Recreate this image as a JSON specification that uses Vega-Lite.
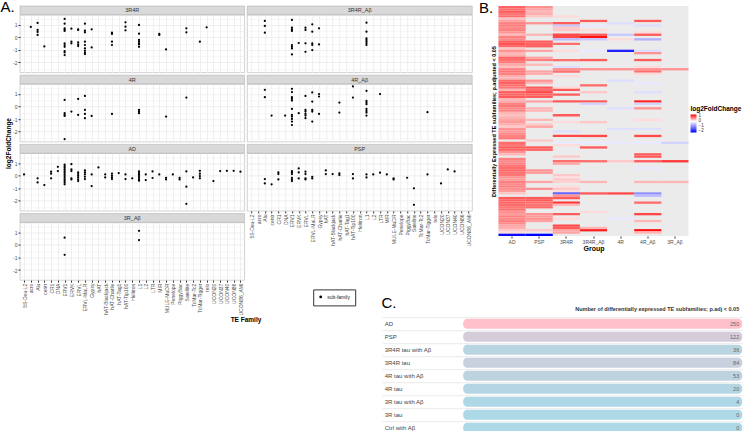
{
"$schema": "https://vega.github.io/schema/vega-lite/v6.json",
"padding": 0,
"autosize": {"type": "pad"},
"background": "white",
"config": {"font": "Liberation Sans", "view": {"stroke": "#b3b3b3", "strokeWidth": 0.6}},
"datasets": {
"pts": [
{"panel":"3R4R","family":"acro","lfc":0.83},
{"panel":"3R4R","family":"Alu","lfc":1.15},{"panel":"3R4R","family":"Alu","lfc":0.59},{"panel":"3R4R","family":"Alu","lfc":0.43},{"panel":"3R4R","family":"Alu","lfc":0.19},
{"panel":"3R4R","family":"centr","lfc":-0.72},
{"panel":"3R4R","family":"ERV1","lfc":1.47},{"panel":"3R4R","family":"ERV1","lfc":1.09},{"panel":"3R4R","family":"ERV1","lfc":0.72},{"panel":"3R4R","family":"ERV1","lfc":0.61},{"panel":"3R4R","family":"ERV1","lfc":0.51},{"panel":"3R4R","family":"ERV1","lfc":-0.48},{"panel":"3R4R","family":"ERV1","lfc":-0.61},{"panel":"3R4R","family":"ERV1","lfc":-0.75},{"panel":"3R4R","family":"ERV1","lfc":-1.09},{"panel":"3R4R","family":"ERV1","lfc":-1.2},{"panel":"3R4R","family":"ERV1","lfc":-1.41},
{"panel":"3R4R","family":"ERVK","lfc":0.69},{"panel":"3R4R","family":"ERVK","lfc":-0.35},{"panel":"3R4R","family":"ERVK","lfc":-0.48},
{"panel":"3R4R","family":"ERVL","lfc":0.64},{"panel":"3R4R","family":"ERVL","lfc":0.59},{"panel":"3R4R","family":"ERVL","lfc":-0.4},{"panel":"3R4R","family":"ERVL","lfc":-0.56},{"panel":"3R4R","family":"ERVL","lfc":-0.69},
{"panel":"3R4R","family":"ERVL-MaLR","lfc":1.09},{"panel":"3R4R","family":"ERVL-MaLR","lfc":0.53},{"panel":"3R4R","family":"ERVL-MaLR","lfc":0.4},{"panel":"3R4R","family":"ERVL-MaLR","lfc":-0.35},{"panel":"3R4R","family":"ERVL-MaLR","lfc":-0.61},{"panel":"3R4R","family":"ERVL-MaLR","lfc":-0.88},{"panel":"3R4R","family":"ERVL-MaLR","lfc":-1.07},{"panel":"3R4R","family":"ERVL-MaLR","lfc":-1.23},{"panel":"3R4R","family":"ERVL-MaLR","lfc":-1.33},
{"panel":"3R4R","family":"Gypsy","lfc":0.64},{"panel":"3R4R","family":"Gypsy","lfc":-0.8},
{"panel":"3R4R","family":"hAT-Charlie","lfc":0.37},{"panel":"3R4R","family":"hAT-Charlie","lfc":0.27},{"panel":"3R4R","family":"hAT-Charlie","lfc":-0.35},{"panel":"3R4R","family":"hAT-Charlie","lfc":-0.61},
{"panel":"3R4R","family":"hAT-Tip100","lfc":1.2},{"panel":"3R4R","family":"hAT-Tip100","lfc":0.85},{"panel":"3R4R","family":"hAT-Tip100","lfc":0.56},
{"panel":"3R4R","family":"L1","lfc":0.99},{"panel":"3R4R","family":"L1","lfc":0.29},{"panel":"3R4R","family":"L1","lfc":-0.21},{"panel":"3R4R","family":"L1","lfc":-0.35},{"panel":"3R4R","family":"L1","lfc":-0.48},{"panel":"3R4R","family":"L1","lfc":-0.56},{"panel":"3R4R","family":"L1","lfc":-0.75},
{"panel":"3R4R","family":"MIR","lfc":0.27},{"panel":"3R4R","family":"MIR","lfc":0.19},
{"panel":"3R4R","family":"MULE-MuDR","lfc":-0.96},
{"panel":"3R4R","family":"Satellite","lfc":0.72},{"panel":"3R4R","family":"Satellite","lfc":0.4},
{"panel":"3R4R","family":"TcMar-Tigger","lfc":-0.35},
{"panel":"3R4R","family":"telo","lfc":0.8},
{"panel":"4R","family":"ERV1","lfc":0.53},{"panel":"4R","family":"ERV1","lfc":-0.53},{"panel":"4R","family":"ERV1","lfc":-0.67},{"panel":"4R","family":"ERV1","lfc":-0.75},{"panel":"4R","family":"ERV1","lfc":-2.59},
{"panel":"4R","family":"ERVK","lfc":-0.4},
{"panel":"4R","family":"ERVL","lfc":0.61},{"panel":"4R","family":"ERVL","lfc":-0.67},
{"panel":"4R","family":"ERVL-MaLR","lfc":0.85},{"panel":"4R","family":"ERVL-MaLR","lfc":-0.27},{"panel":"4R","family":"ERVL-MaLR","lfc":-0.59},{"panel":"4R","family":"ERVL-MaLR","lfc":-0.93},
{"panel":"4R","family":"Gypsy","lfc":-0.75},
{"panel":"4R","family":"hAT-Charlie","lfc":-0.59},
{"panel":"4R","family":"L1","lfc":-0.27},{"panel":"4R","family":"L1","lfc":-0.4},{"panel":"4R","family":"L1","lfc":-0.53},
{"panel":"4R","family":"MULE-MuDR","lfc":-0.8},
{"panel":"4R","family":"Satellite","lfc":0.72},
{"panel":"3R4R_Aβ","family":"Alu","lfc":1.31},{"panel":"3R4R_Aβ","family":"Alu","lfc":0.91},{"panel":"3R4R_Aβ","family":"Alu","lfc":0.37},
{"panel":"3R4R_Aβ","family":"ERV1","lfc":1.39},{"panel":"3R4R_Aβ","family":"ERV1","lfc":0.77},{"panel":"3R4R_Aβ","family":"ERV1","lfc":0.64},{"panel":"3R4R_Aβ","family":"ERV1","lfc":0.51},{"panel":"3R4R_Aβ","family":"ERV1","lfc":-0.61},{"panel":"3R4R_Aβ","family":"ERV1","lfc":-0.75},{"panel":"3R4R_Aβ","family":"ERV1","lfc":-0.88},{"panel":"3R4R_Aβ","family":"ERV1","lfc":-1.36},
{"panel":"3R4R_Aβ","family":"ERVK","lfc":-0.45},
{"panel":"3R4R_Aβ","family":"ERVL","lfc":0.77},{"panel":"3R4R_Aβ","family":"ERVL","lfc":0.59},{"panel":"3R4R_Aβ","family":"ERVL","lfc":-0.48},{"panel":"3R4R_Aβ","family":"ERVL","lfc":-1.15},
{"panel":"3R4R_Aβ","family":"ERVL-MaLR","lfc":1.04},{"panel":"3R4R_Aβ","family":"ERVL-MaLR","lfc":0.45},{"panel":"3R4R_Aβ","family":"ERVL-MaLR","lfc":-0.48},{"panel":"3R4R_Aβ","family":"ERVL-MaLR","lfc":-0.61},{"panel":"3R4R_Aβ","family":"ERVL-MaLR","lfc":-1.01},
{"panel":"3R4R_Aβ","family":"Gypsy","lfc":0.72},{"panel":"3R4R_Aβ","family":"Gypsy","lfc":-0.56},
{"panel":"3R4R_Aβ","family":"L1","lfc":1.17},{"panel":"3R4R_Aβ","family":"L1","lfc":0.45},{"panel":"3R4R_Aβ","family":"L1","lfc":-0.08},{"panel":"3R4R_Aβ","family":"L1","lfc":-0.21},{"panel":"3R4R_Aβ","family":"L1","lfc":-0.35},{"panel":"3R4R_Aβ","family":"L1","lfc":-0.48},{"panel":"3R4R_Aβ","family":"L1","lfc":-0.61},
{"panel":"4R_Aβ","family":"Alu","lfc":1.33},{"panel":"4R_Aβ","family":"Alu","lfc":0.75},
{"panel":"4R_Aβ","family":"centr","lfc":-0.72},
{"panel":"4R_Aβ","family":"DNA","lfc":-0.72},
{"panel":"4R_Aβ","family":"ERV1","lfc":1.41},{"panel":"4R_Aβ","family":"ERV1","lfc":1.15},{"panel":"4R_Aβ","family":"ERV1","lfc":0.75},{"panel":"4R_Aβ","family":"ERV1","lfc":0.61},{"panel":"4R_Aβ","family":"ERV1","lfc":0.48},{"panel":"4R_Aβ","family":"ERV1","lfc":-0.19},{"panel":"4R_Aβ","family":"ERV1","lfc":-0.67},{"panel":"4R_Aβ","family":"ERV1","lfc":-0.8},{"panel":"4R_Aβ","family":"ERV1","lfc":-0.99},{"panel":"4R_Aβ","family":"ERV1","lfc":-1.2},{"panel":"4R_Aβ","family":"ERV1","lfc":-1.47},
{"panel":"4R_Aβ","family":"ERVK","lfc":-0.53},
{"panel":"4R_Aβ","family":"ERVL","lfc":0.85},{"panel":"4R_Aβ","family":"ERVL","lfc":-0.27},{"panel":"4R_Aβ","family":"ERVL","lfc":-0.4},{"panel":"4R_Aβ","family":"ERVL","lfc":-0.59},{"panel":"4R_Aβ","family":"ERVL","lfc":-0.72},{"panel":"4R_Aβ","family":"ERVL","lfc":-0.93},
{"panel":"4R_Aβ","family":"ERVL-MaLR","lfc":1.12},{"panel":"4R_Aβ","family":"ERVL-MaLR","lfc":0.4},{"panel":"4R_Aβ","family":"ERVL-MaLR","lfc":-0.27},{"panel":"4R_Aβ","family":"ERVL-MaLR","lfc":-0.4},{"panel":"4R_Aβ","family":"ERVL-MaLR","lfc":-1.2},
{"panel":"4R_Aβ","family":"Gypsy","lfc":0.99},{"panel":"4R_Aβ","family":"Gypsy","lfc":0.8},{"panel":"4R_Aβ","family":"Gypsy","lfc":-0.59},
{"panel":"4R_Aβ","family":"hAT-Charlie","lfc":0.32},{"panel":"4R_Aβ","family":"hAT-Charlie","lfc":-0.48},
{"panel":"4R_Aβ","family":"hAT-Tip100","lfc":1.6},{"panel":"4R_Aβ","family":"hAT-Tip100","lfc":0.72},
{"panel":"4R_Aβ","family":"L1","lfc":1.25},{"panel":"4R_Aβ","family":"L1","lfc":0.45},{"panel":"4R_Aβ","family":"L1","lfc":0.32},{"panel":"4R_Aβ","family":"L1","lfc":0.19},{"panel":"4R_Aβ","family":"L1","lfc":-0.19},{"panel":"4R_Aβ","family":"L1","lfc":-0.35},{"panel":"4R_Aβ","family":"L1","lfc":-0.48},{"panel":"4R_Aβ","family":"L1","lfc":-0.72},
{"panel":"4R_Aβ","family":"LTR","lfc":0.99},
{"panel":"4R_Aβ","family":"TcMar-Tigger","lfc":-0.45},
{"panel":"AD","family":"5S-Deu-L2","lfc":0.1},
{"panel":"AD","family":"Alu","lfc":-0.2},{"panel":"AD","family":"Alu","lfc":-0.53},
{"panel":"AD","family":"centr","lfc":-0.74},
{"panel":"AD","family":"CR1","lfc":0.32},{"panel":"AD","family":"CR1","lfc":0.16},{"panel":"AD","family":"CR1","lfc":-0.2},
{"panel":"AD","family":"DNA","lfc":0.71},{"panel":"AD","family":"DNA","lfc":0.37},
{"panel":"AD","family":"ERV1","lfc":0.89},{"panel":"AD","family":"ERV1","lfc":0.76},{"panel":"AD","family":"ERV1","lfc":0.63},{"panel":"AD","family":"ERV1","lfc":0.5},{"panel":"AD","family":"ERV1","lfc":0.37},{"panel":"AD","family":"ERV1","lfc":0.24},{"panel":"AD","family":"ERV1","lfc":0.1},{"panel":"AD","family":"ERV1","lfc":-0.03},{"panel":"AD","family":"ERV1","lfc":-0.16},{"panel":"AD","family":"ERV1","lfc":-0.29},{"panel":"AD","family":"ERV1","lfc":-0.42},{"panel":"AD","family":"ERV1","lfc":-0.55},{"panel":"AD","family":"ERV1","lfc":-0.68},
{"panel":"AD","family":"ERVK","lfc":0.92},{"panel":"AD","family":"ERVK","lfc":0.5},{"panel":"AD","family":"ERVK","lfc":0.37},{"panel":"AD","family":"ERVK","lfc":-0.2},{"panel":"AD","family":"ERVK","lfc":-0.29},
{"panel":"AD","family":"ERVL","lfc":0.26},{"panel":"AD","family":"ERVL","lfc":0.13},{"panel":"AD","family":"ERVL","lfc":0},{"panel":"AD","family":"ERVL","lfc":-0.13},{"panel":"AD","family":"ERVL","lfc":-0.29},{"panel":"AD","family":"ERVL","lfc":-0.42},
{"panel":"AD","family":"ERVL-MaLR","lfc":0.42},{"panel":"AD","family":"ERVL-MaLR","lfc":0.26},{"panel":"AD","family":"ERVL-MaLR","lfc":0.1},{"panel":"AD","family":"ERVL-MaLR","lfc":-0.08},{"panel":"AD","family":"ERVL-MaLR","lfc":-0.26},
{"panel":"AD","family":"Gypsy","lfc":0.1},{"panel":"AD","family":"Gypsy","lfc":-0.82},
{"panel":"AD","family":"hAT","lfc":0.66},
{"panel":"AD","family":"hAT-Blackjack","lfc":0.1},{"panel":"AD","family":"hAT-Blackjack","lfc":-0.13},
{"panel":"AD","family":"hAT-Charlie","lfc":0.16},{"panel":"AD","family":"hAT-Charlie","lfc":0},{"panel":"AD","family":"hAT-Charlie","lfc":-0.13},{"panel":"AD","family":"hAT-Charlie","lfc":-0.26},
{"panel":"AD","family":"hAT-Tag1","lfc":0.21},
{"panel":"AD","family":"hAT-Tip100","lfc":0.1},{"panel":"AD","family":"hAT-Tip100","lfc":-0.26},
{"panel":"AD","family":"Helitron","lfc":-0.2},
{"panel":"AD","family":"L1","lfc":0.34},{"panel":"AD","family":"L1","lfc":0.21},{"panel":"AD","family":"L1","lfc":0.1},{"panel":"AD","family":"L1","lfc":-0.03},{"panel":"AD","family":"L1","lfc":-0.16},{"panel":"AD","family":"L1","lfc":-0.29},{"panel":"AD","family":"L1","lfc":-0.39},
{"panel":"AD","family":"L2","lfc":0.1},{"panel":"AD","family":"L2","lfc":-0.34},
{"panel":"AD","family":"LTR","lfc":0.34},{"panel":"AD","family":"LTR","lfc":-0.18},
{"panel":"AD","family":"MIR","lfc":0.1},
{"panel":"AD","family":"MULE-MuDR","lfc":-0.16},{"panel":"AD","family":"MULE-MuDR","lfc":-0.29},
{"panel":"AD","family":"Penelope","lfc":0.1},
{"panel":"AD","family":"PiggyBac","lfc":-0.16},{"panel":"AD","family":"PiggyBac","lfc":-0.29},
{"panel":"AD","family":"Satellite","lfc":0.34},{"panel":"AD","family":"Satellite","lfc":-0.87},{"panel":"AD","family":"Satellite","lfc":-2.24},
{"panel":"AD","family":"TcMar-Tc2","lfc":-0.13},
{"panel":"AD","family":"TcMar-Tigger","lfc":0.39},{"panel":"AD","family":"TcMar-Tigger","lfc":0.16},{"panel":"AD","family":"TcMar-Tigger","lfc":-0.03},{"panel":"AD","family":"TcMar-Tigger","lfc":-0.2},
{"panel":"AD","family":"UCON20","lfc":-0.42},
{"panel":"AD","family":"UCON37","lfc":0.37},
{"panel":"AD","family":"UCON40","lfc":0.39},
{"panel":"AD","family":"UCON86","lfc":0.39},
{"panel":"AD","family":"UCON86_AMI","lfc":0.32},
{"panel":"PSP","family":"Alu","lfc":-0.26},{"panel":"PSP","family":"Alu","lfc":-0.61},
{"panel":"PSP","family":"centr","lfc":-0.68},
{"panel":"PSP","family":"CR1","lfc":0.26},{"panel":"PSP","family":"CR1","lfc":0.13},{"panel":"PSP","family":"CR1","lfc":-0.29},
{"panel":"PSP","family":"ERV1","lfc":0.37},{"panel":"PSP","family":"ERV1","lfc":0.26},{"panel":"PSP","family":"ERV1","lfc":0.13},{"panel":"PSP","family":"ERV1","lfc":-0.16},{"panel":"PSP","family":"ERV1","lfc":-0.29},{"panel":"PSP","family":"ERV1","lfc":-0.42},
{"panel":"PSP","family":"ERVK","lfc":0.58},{"panel":"PSP","family":"ERVK","lfc":0.26},{"panel":"PSP","family":"ERVK","lfc":-0.21},
{"panel":"PSP","family":"ERVL","lfc":0.32},{"panel":"PSP","family":"ERVL","lfc":0.13},{"panel":"PSP","family":"ERVL","lfc":-0.21},{"panel":"PSP","family":"ERVL","lfc":-0.29},
{"panel":"PSP","family":"ERVL-MaLR","lfc":-0.08},{"panel":"PSP","family":"ERVL-MaLR","lfc":-0.21},
{"panel":"PSP","family":"hAT","lfc":0.42},{"panel":"PSP","family":"hAT","lfc":0.13},
{"panel":"PSP","family":"hAT-Blackjack","lfc":0.13},
{"panel":"PSP","family":"hAT-Charlie","lfc":0.18},{"panel":"PSP","family":"hAT-Charlie","lfc":0.05},
{"panel":"PSP","family":"hAT-Tip100","lfc":0.13},{"panel":"PSP","family":"hAT-Tip100","lfc":-0.21},
{"panel":"PSP","family":"L1","lfc":0.1},{"panel":"PSP","family":"L1","lfc":-0.13},
{"panel":"PSP","family":"L2","lfc":0.1},
{"panel":"PSP","family":"LTR","lfc":0.24},
{"panel":"PSP","family":"MIR","lfc":0.1},
{"panel":"PSP","family":"MULE-MuDR","lfc":-0.21},{"panel":"PSP","family":"MULE-MuDR","lfc":-0.29},
{"panel":"PSP","family":"PiggyBac","lfc":-0.16},
{"panel":"PSP","family":"Satellite","lfc":-1.0},{"panel":"PSP","family":"Satellite","lfc":-2.32},
{"panel":"PSP","family":"TcMar-Tigger","lfc":0.1},
{"panel":"PSP","family":"UCON20","lfc":-0.61},
{"panel":"PSP","family":"UCON37","lfc":0.5},
{"panel":"PSP","family":"UCON40","lfc":0.34},
{"panel":"3R_Aβ","family":"ERV1","lfc":0.58},{"panel":"3R_Aβ","family":"ERV1","lfc":-0.79},
{"panel":"3R_Aβ","family":"L1","lfc":1.13},{"panel":"3R_Aβ","family":"L1","lfc":0.39}
],
"heat": [
{"row":1,"group":"AD","lfc":0.85},{"row":2,"group":"AD","lfc":0.8},{"row":3,"group":"AD","lfc":0.9},{"row":4,"group":"AD","lfc":0.75},{"row":5,"group":"AD","lfc":0.8},{"row":6,"group":"AD","lfc":0.35},{"row":7,"group":"AD","lfc":0.5},{"row":8,"group":"AD","lfc":0.7},{"row":9,"group":"AD","lfc":0.75},{"row":10,"group":"AD","lfc":0.65},
{"row":11,"group":"AD","lfc":0.7},{"row":12,"group":"AD","lfc":0.6},{"row":13,"group":"AD","lfc":0.4},{"row":14,"group":"AD","lfc":0.7},{"row":15,"group":"AD","lfc":0.65},{"row":16,"group":"AD","lfc":0.9},{"row":17,"group":"AD","lfc":0.95},{"row":18,"group":"AD","lfc":0.85},{"row":19,"group":"AD","lfc":0.3},{"row":20,"group":"AD","lfc":0.6},
{"row":21,"group":"AD","lfc":0.4},{"row":22,"group":"AD","lfc":0.45},{"row":23,"group":"AD","lfc":0.85},{"row":24,"group":"AD","lfc":0.8},{"row":25,"group":"AD","lfc":0.75},{"row":26,"group":"AD","lfc":0.5},{"row":27,"group":"AD","lfc":0.35},{"row":28,"group":"AD","lfc":0.7},{"row":29,"group":"AD","lfc":0.75},{"row":30,"group":"AD","lfc":0.7},
{"row":31,"group":"AD","lfc":0.45},{"row":32,"group":"AD","lfc":0.4},{"row":33,"group":"AD","lfc":0.8},{"row":34,"group":"AD","lfc":0.85},{"row":35,"group":"AD","lfc":0.8},{"row":36,"group":"AD","lfc":0.75},{"row":37,"group":"AD","lfc":0.4},{"row":38,"group":"AD","lfc":0.9},{"row":39,"group":"AD","lfc":0.85},{"row":40,"group":"AD","lfc":0.9},
{"row":41,"group":"AD","lfc":0.4},{"row":42,"group":"AD","lfc":0.45},{"row":43,"group":"AD","lfc":0.7},{"row":44,"group":"AD","lfc":0.75},{"row":45,"group":"AD","lfc":0.65},{"row":46,"group":"AD","lfc":0.7},{"row":47,"group":"AD","lfc":0.4},{"row":48,"group":"AD","lfc":0.35},{"row":49,"group":"AD","lfc":0.45},{"row":50,"group":"AD","lfc":0.5},
{"row":51,"group":"AD","lfc":0.55},{"row":52,"group":"AD","lfc":0.45},{"row":53,"group":"AD","lfc":0.3},{"row":54,"group":"AD","lfc":0.6},{"row":55,"group":"AD","lfc":0.55},{"row":56,"group":"AD","lfc":0.65},{"row":57,"group":"AD","lfc":0.7},{"row":58,"group":"AD","lfc":0.75},{"row":60,"group":"AD","lfc":0.8},
{"row":61,"group":"AD","lfc":0.75},{"row":62,"group":"AD","lfc":0.9},{"row":63,"group":"AD","lfc":0.85},{"row":64,"group":"AD","lfc":0.6},{"row":65,"group":"AD","lfc":0.4},{"row":67,"group":"AD","lfc":0.7},{"row":68,"group":"AD","lfc":0.65},{"row":69,"group":"AD","lfc":0.7},{"row":70,"group":"AD","lfc":0.75},
{"row":71,"group":"AD","lfc":0.8},{"row":72,"group":"AD","lfc":0.85},{"row":73,"group":"AD","lfc":0.8},{"row":74,"group":"AD","lfc":0.75},{"row":75,"group":"AD","lfc":0.6},{"row":76,"group":"AD","lfc":0.55},{"row":77,"group":"AD","lfc":0.7},{"row":78,"group":"AD","lfc":0.65},{"row":79,"group":"AD","lfc":0.7},{"row":80,"group":"AD","lfc":0.6},
{"row":81,"group":"AD","lfc":0.55},{"row":82,"group":"AD","lfc":0.3},{"row":84,"group":"AD","lfc":0.9},{"row":85,"group":"AD","lfc":0.85},{"row":86,"group":"AD","lfc":0.85},{"row":87,"group":"AD","lfc":0.8},{"row":88,"group":"AD","lfc":0.75},{"row":89,"group":"AD","lfc":0.8},{"row":90,"group":"AD","lfc":0.6},
{"row":91,"group":"AD","lfc":0.55},{"row":92,"group":"AD","lfc":0.7},{"row":93,"group":"AD","lfc":0.65},{"row":94,"group":"AD","lfc":0.7},{"row":95,"group":"AD","lfc":0.65},{"row":96,"group":"AD","lfc":0.5},{"row":97,"group":"AD","lfc":0.45},{"row":98,"group":"AD","lfc":0.3},{"row":99,"group":"AD","lfc":0.2},{"row":100,"group":"AD","lfc":-2.2},
{"row":1,"group":"PSP","lfc":0.6},{"row":2,"group":"PSP","lfc":0.5},{"row":3,"group":"PSP","lfc":0.4},{"row":4,"group":"PSP","lfc":0.45},{"row":5,"group":"PSP","lfc":0.3},{"row":8,"group":"PSP","lfc":0.6},{"row":13,"group":"PSP","lfc":0.4},{"row":16,"group":"PSP","lfc":0.9},{"row":17,"group":"PSP","lfc":0.85},{"row":18,"group":"PSP","lfc":0.9},
{"row":20,"group":"PSP","lfc":0.5},{"row":23,"group":"PSP","lfc":0.5},{"row":24,"group":"PSP","lfc":0.7},{"row":26,"group":"PSP","lfc":0.4},{"row":29,"group":"PSP","lfc":0.5},{"row":30,"group":"PSP","lfc":0.45},{"row":33,"group":"PSP","lfc":0.6},{"row":34,"group":"PSP","lfc":0.4},{"row":36,"group":"PSP","lfc":0.9},{"row":37,"group":"PSP","lfc":0.8},
{"row":38,"group":"PSP","lfc":1.0},{"row":39,"group":"PSP","lfc":0.85},{"row":40,"group":"PSP","lfc":0.9},{"row":42,"group":"PSP","lfc":0.5},{"row":45,"group":"PSP","lfc":0.4},{"row":46,"group":"PSP","lfc":0.4},{"row":50,"group":"PSP","lfc":0.4},{"row":52,"group":"PSP","lfc":0.3},{"row":53,"group":"PSP","lfc":0.5},{"row":59,"group":"PSP","lfc":0.3},
{"row":62,"group":"PSP","lfc":0.9},{"row":63,"group":"PSP","lfc":0.85},{"row":72,"group":"PSP","lfc":0.6},{"row":73,"group":"PSP","lfc":0.55},{"row":77,"group":"PSP","lfc":0.5},{"row":80,"group":"PSP","lfc":0.6},{"row":84,"group":"PSP","lfc":0.9},{"row":85,"group":"PSP","lfc":0.9},{"row":86,"group":"PSP","lfc":0.8},{"row":87,"group":"PSP","lfc":0.75},
{"row":88,"group":"PSP","lfc":0.8},{"row":91,"group":"PSP","lfc":0.6},{"row":92,"group":"PSP","lfc":0.55},{"row":93,"group":"PSP","lfc":0.6},{"row":94,"group":"PSP","lfc":0.5},{"row":98,"group":"PSP","lfc":0.3},{"row":100,"group":"PSP","lfc":-2.3},
{"row":5,"group":"3R4R","lfc":0.2},{"row":8,"group":"3R4R","lfc":0.9},{"row":9,"group":"3R4R","lfc":-0.5},{"row":10,"group":"3R4R","lfc":0.3},{"row":11,"group":"3R4R","lfc":0.3},{"row":13,"group":"3R4R","lfc":1.0},{"row":14,"group":"3R4R","lfc":1.0},{"row":15,"group":"3R4R","lfc":-0.6},{"row":17,"group":"3R4R","lfc":0.8},{"row":20,"group":"3R4R","lfc":0.2},
{"row":24,"group":"3R4R","lfc":0.8},{"row":27,"group":"3R4R","lfc":-0.3},{"row":28,"group":"3R4R","lfc":0.6},{"row":29,"group":"3R4R","lfc":0.8},{"row":31,"group":"3R4R","lfc":0.2},{"row":36,"group":"3R4R","lfc":0.2},{"row":37,"group":"3R4R","lfc":0.9},{"row":39,"group":"3R4R","lfc":0.9},{"row":42,"group":"3R4R","lfc":0.9},{"row":48,"group":"3R4R","lfc":0.9},
{"row":51,"group":"3R4R","lfc":0.2},{"row":55,"group":"3R4R","lfc":-0.3},{"row":57,"group":"3R4R","lfc":1.0},{"row":60,"group":"3R4R","lfc":-0.2},{"row":61,"group":"3R4R","lfc":0.2},{"row":66,"group":"3R4R","lfc":0.3},{"row":68,"group":"3R4R","lfc":0.8},{"row":69,"group":"3R4R","lfc":0.5},{"row":74,"group":"3R4R","lfc":0.3},{"row":75,"group":"3R4R","lfc":0.2},
{"row":76,"group":"3R4R","lfc":0.3},{"row":77,"group":"3R4R","lfc":0.25},{"row":79,"group":"3R4R","lfc":0.2},{"row":80,"group":"3R4R","lfc":0.3},{"row":81,"group":"3R4R","lfc":0.2},{"row":82,"group":"3R4R","lfc":-1.4},{"row":83,"group":"3R4R","lfc":0.6},{"row":84,"group":"3R4R","lfc":0.9},{"row":86,"group":"3R4R","lfc":1.1},{"row":87,"group":"3R4R","lfc":0.4},
{"row":91,"group":"3R4R","lfc":0.9},{"row":93,"group":"3R4R","lfc":0.2},{"row":96,"group":"3R4R","lfc":1.0},{"row":97,"group":"3R4R","lfc":0.9},{"row":98,"group":"3R4R","lfc":0.5},{"row":99,"group":"3R4R","lfc":0.5},
{"row":7,"group":"3R4R_Aβ","lfc":0.9},{"row":9,"group":"3R4R_Aβ","lfc":-0.2},{"row":11,"group":"3R4R_Aβ","lfc":0.2},{"row":13,"group":"3R4R_Aβ","lfc":0.9},{"row":14,"group":"3R4R_Aβ","lfc":1.3},{"row":15,"group":"3R4R_Aβ","lfc":-0.5},{"row":20,"group":"3R4R_Aβ","lfc":-0.2},{"row":24,"group":"3R4R_Aβ","lfc":0.9},{"row":28,"group":"3R4R_Aβ","lfc":0.6},{"row":35,"group":"3R4R_Aβ","lfc":0.8},
{"row":38,"group":"3R4R_Aβ","lfc":0.3},{"row":42,"group":"3R4R_Aβ","lfc":0.9},{"row":43,"group":"3R4R_Aβ","lfc":-0.4},{"row":51,"group":"3R4R_Aβ","lfc":0.3},{"row":57,"group":"3R4R_Aβ","lfc":1.0},{"row":60,"group":"3R4R_Aβ","lfc":-0.2},{"row":62,"group":"3R4R_Aβ","lfc":0.9},{"row":68,"group":"3R4R_Aβ","lfc":0.8},{"row":77,"group":"3R4R_Aβ","lfc":0.4},{"row":82,"group":"3R4R_Aβ","lfc":0.9},
{"row":90,"group":"3R4R_Aβ","lfc":0.2},{"row":97,"group":"3R4R_Aβ","lfc":0.4},{"row":98,"group":"3R4R_Aβ","lfc":1.2},
{"row":8,"group":"4R","lfc":-0.3},{"row":13,"group":"4R","lfc":-0.5},{"row":15,"group":"4R","lfc":0.2},{"row":20,"group":"4R","lfc":-2.0},{"row":28,"group":"4R","lfc":0.6},{"row":33,"group":"4R","lfc":-0.3},{"row":45,"group":"4R","lfc":-0.3},{"row":54,"group":"4R","lfc":-0.3},{"row":60,"group":"4R","lfc":-0.2},{"row":68,"group":"4R","lfc":0.3},{"row":82,"group":"4R","lfc":1.0},{"row":93,"group":"4R","lfc":-0.2},
{"row":7,"group":"4R_Aβ","lfc":0.9},{"row":9,"group":"4R_Aβ","lfc":-0.3},{"row":12,"group":"4R_Aβ","lfc":0.2},{"row":13,"group":"4R_Aβ","lfc":0.9},{"row":15,"group":"4R_Aβ","lfc":-0.7},{"row":20,"group":"4R_Aβ","lfc":-0.3},{"row":21,"group":"4R_Aβ","lfc":0.6},{"row":24,"group":"4R_Aβ","lfc":0.9},{"row":27,"group":"4R_Aβ","lfc":0.2},{"row":28,"group":"4R_Aβ","lfc":0.6},
{"row":29,"group":"4R_Aβ","lfc":0.8},{"row":30,"group":"4R_Aβ","lfc":0.2},{"row":34,"group":"4R_Aβ","lfc":-0.2},{"row":38,"group":"4R_Aβ","lfc":-0.3},{"row":42,"group":"4R_Aβ","lfc":1.2},{"row":43,"group":"4R_Aβ","lfc":-0.4},{"row":45,"group":"4R_Aβ","lfc":0.6},{"row":50,"group":"4R_Aβ","lfc":0.2},{"row":54,"group":"4R_Aβ","lfc":-0.3},{"row":57,"group":"4R_Aβ","lfc":1.0},
{"row":60,"group":"4R_Aβ","lfc":-0.2},{"row":65,"group":"4R_Aβ","lfc":0.9},{"row":66,"group":"4R_Aβ","lfc":0.9},{"row":68,"group":"4R_Aβ","lfc":0.9},{"row":71,"group":"4R_Aβ","lfc":-0.2},{"row":77,"group":"4R_Aβ","lfc":0.4},{"row":82,"group":"4R_Aβ","lfc":-1.0},{"row":83,"group":"4R_Aβ","lfc":-0.6},{"row":86,"group":"4R_Aβ","lfc":0.8},{"row":91,"group":"4R_Aβ","lfc":1.0},
{"row":94,"group":"4R_Aβ","lfc":0.4},{"row":98,"group":"4R_Aβ","lfc":1.3},{"row":99,"group":"4R_Aβ","lfc":0.4},
{"row":28,"group":"3R_Aβ","lfc":0.6},{"row":60,"group":"3R_Aβ","lfc":-0.4},{"row":68,"group":"3R_Aβ","lfc":1.1},{"row":77,"group":"3R_Aβ","lfc":0.4}
],
"counts": [
{"label":"AD","n":250},{"label":"PSP","n":122},{"label":"3R4R tau with Aβ","n":36},{"label":"3R4R tau","n":84},{"label":"4R tau with Aβ","n":53},{"label":"4R tau","n":20},{"label":"3R tau with Aβ","n":4},{"label":"3R tau","n":0},{"label":"Ctrl with Aβ","n":0}
]
},
"bounds": "flush",
"spacing": 227.2,
"resolve": {"scale": {"x": "independent", "y": "independent", "color": "independent", "shape": "independent"}},
"hconcat": [
{
"bounds": "flush", "spacing": 69.2,
"resolve": {"scale": {"x": "independent", "y": "independent"}},
"vconcat": [
{"bounds": "flush", "spacing": 0, "vconcat": [
 {"width": 224.5, "height": 8.7, "view": {"stroke": null},
  "title": {"text": "A.", "anchor": "start", "align": "left", "frame": "group", "dx": -19.5, "dy": 10.4, "offset": -11, "baseline": "alphabetic", "fontSize": 15, "fontWeight": "normal", "color": "black"},
  "data": {"values": [{"panel": "3R4R"}]},
  "layer": [
   {"mark": {"type": "rect", "fill": "#d9d9d9", "stroke": "#b3b3b3", "strokeWidth": 0.6}, "encoding": {}},
   {"mark": {"type": "text", "fontSize": 5.5, "color": "#333333"}, "encoding": {"text": {"field": "panel"}}}
  ]},
 {"width": 224.5, "height": 57.5, "data": {"name": "pts"},
  "transform": [{"filter": "datum.panel === '3R4R'"}],
  "mark": {"type": "point", "filled": true, "size": 5, "color": "black", "opacity": 1},
  "encoding": {
   "x": {"field": "family", "type": "nominal", "scale": {"type": "point", "padding": 0.6, "domain": ["5S-Deu-L2","acro","Alu","centr","CR1","DNA","ERV1","ERVK","ERVL","ERVL-MaLR","Gypsy","hAT","hAT-Blackjack","hAT-Charlie","hAT-Tag1","hAT-Tip100","Helitron","L1","L2","LTR","MIR","MULE-MuDR","Penelope","PiggyBac","Satellite","TcMar-Tc2","TcMar-Tigger","telo","UCON20","UCON37","UCON40","UCON86","UCON86_AMI"]},
        "axis": {"labels": false, "ticks": false, "domain": false, "title": null, "grid": true, "gridColor": "#ebebeb", "gridWidth": 0.8}},
   "y": {"field": "lfc", "type": "quantitative", "scale": {"domain": [-2.8, 1.78], "nice": false, "zero": false},
        "axis": {"values": [-2.5,-2,-1.5,-1,-0.5,0,0.5,1,1.5], "labelExpr": "datum.value % 1 === 0 ? '' + datum.value : ''", "labelFontSize": 5, "labelColor": "#4d4d4d", "labelPadding": 1, "tickSize": 2, "tickColor": {"condition": {"test": "datum.value % 1 !== 0", "value": "transparent"}, "value": "#333333"}, "domain": false, "grid": true, "gridColor": "#ebebeb", "gridWidth": {"condition": {"test": "datum.value % 1 !== 0", "value": 0.4}, "value": 0.8}, "title": null}}
  }}
]},
{"bounds": "flush", "spacing": 0, "vconcat": [
 {"width": 224.5, "height": 8.7, "view": {"stroke": null},
  "data": {"values": [{"panel": "4R"}]},
  "layer": [
   {"mark": {"type": "rect", "fill": "#d9d9d9", "stroke": "#b3b3b3", "strokeWidth": 0.6}, "encoding": {}},
   {"mark": {"type": "text", "fontSize": 5.5, "color": "#333333"}, "encoding": {"text": {"field": "panel"}}}
  ]},
 {"width": 224.5, "height": 57.5, "data": {"name": "pts"},
  "transform": [{"filter": "datum.panel === '4R'"}],
  "mark": {"type": "point", "filled": true, "size": 5, "color": "black", "opacity": 1},
  "encoding": {
   "x": {"field": "family", "type": "nominal", "scale": {"type": "point", "padding": 0.6, "domain": ["5S-Deu-L2","acro","Alu","centr","CR1","DNA","ERV1","ERVK","ERVL","ERVL-MaLR","Gypsy","hAT","hAT-Blackjack","hAT-Charlie","hAT-Tag1","hAT-Tip100","Helitron","L1","L2","LTR","MIR","MULE-MuDR","Penelope","PiggyBac","Satellite","TcMar-Tc2","TcMar-Tigger","telo","UCON20","UCON37","UCON40","UCON86","UCON86_AMI"]},
        "axis": {"labels": false, "ticks": false, "domain": false, "title": null, "grid": true, "gridColor": "#ebebeb", "gridWidth": 0.8}},
   "y": {"field": "lfc", "type": "quantitative", "scale": {"domain": [-2.8, 1.78], "nice": false, "zero": false},
        "axis": {"values": [-2.5,-2,-1.5,-1,-0.5,0,0.5,1,1.5], "labelExpr": "datum.value % 1 === 0 ? '' + datum.value : ''", "labelFontSize": 5, "labelColor": "#4d4d4d", "labelPadding": 1, "tickSize": 2, "tickColor": {"condition": {"test": "datum.value % 1 !== 0", "value": "transparent"}, "value": "#333333"}, "domain": false, "grid": true, "gridColor": "#ebebeb", "gridWidth": {"condition": {"test": "datum.value % 1 !== 0", "value": 0.4}, "value": 0.8},
                 "title": "log2FoldChange", "titleX": -12, "titleY": 58.8, "titleFontSize": 6.5, "titleFontWeight": "bold", "titleColor": "black", "titleAlign": "center", "titleBaseline": "middle"}}
  }}
]},
{"bounds": "flush", "spacing": 0, "vconcat": [
 {"width": 224.5, "height": 8.7, "view": {"stroke": null},
  "data": {"values": [{"panel": "AD"}]},
  "layer": [
   {"mark": {"type": "rect", "fill": "#d9d9d9", "stroke": "#b3b3b3", "strokeWidth": 0.6}, "encoding": {}},
   {"mark": {"type": "text", "fontSize": 5.5, "color": "#333333"}, "encoding": {"text": {"field": "panel"}}}
  ]},
 {"width": 224.5, "height": 57.5, "data": {"name": "pts"},
  "transform": [{"filter": "datum.panel === 'AD'"}],
  "mark": {"type": "point", "filled": true, "size": 5, "color": "black", "opacity": 1},
  "encoding": {
   "x": {"field": "family", "type": "nominal", "scale": {"type": "point", "padding": 0.6, "domain": ["5S-Deu-L2","acro","Alu","centr","CR1","DNA","ERV1","ERVK","ERVL","ERVL-MaLR","Gypsy","hAT","hAT-Blackjack","hAT-Charlie","hAT-Tag1","hAT-Tip100","Helitron","L1","L2","LTR","MIR","MULE-MuDR","Penelope","PiggyBac","Satellite","TcMar-Tc2","TcMar-Tigger","telo","UCON20","UCON37","UCON40","UCON86","UCON86_AMI"]},
        "axis": {"labels": false, "ticks": false, "domain": false, "title": null, "grid": true, "gridColor": "#ebebeb", "gridWidth": 0.8}},
   "y": {"field": "lfc", "type": "quantitative", "scale": {"domain": [-2.8, 1.78], "nice": false, "zero": false},
        "axis": {"values": [-2.5,-2,-1.5,-1,-0.5,0,0.5,1,1.5], "labelExpr": "datum.value % 1 === 0 ? '' + datum.value : ''", "labelFontSize": 5, "labelColor": "#4d4d4d", "labelPadding": 1, "tickSize": 2, "tickColor": {"condition": {"test": "datum.value % 1 !== 0", "value": "transparent"}, "value": "#333333"}, "domain": false, "grid": true, "gridColor": "#ebebeb", "gridWidth": {"condition": {"test": "datum.value % 1 !== 0", "value": 0.4}, "value": 0.8}, "title": null}}
  }}
]},
{"bounds": "flush", "spacing": 0, "vconcat": [
 {"width": 224.5, "height": 8.7, "view": {"stroke": null},
  "data": {"values": [{"panel": "3R_Aβ"}]},
  "layer": [
   {"mark": {"type": "rect", "fill": "#d9d9d9", "stroke": "#b3b3b3", "strokeWidth": 0.6}, "encoding": {}},
   {"mark": {"type": "text", "fontSize": 5.5, "color": "#333333"}, "encoding": {"text": {"field": "panel"}}}
  ]},
 {"width": 224.5, "height": 57.5, "data": {"name": "pts"},
  "transform": [{"filter": "datum.panel === '3R_Aβ'"}],
  "mark": {"type": "point", "filled": true, "size": 5, "color": "black", "opacity": 1},
  "encoding": {
   "x": {"field": "family", "type": "nominal", "scale": {"type": "point", "padding": 0.6, "domain": ["5S-Deu-L2","acro","Alu","centr","CR1","DNA","ERV1","ERVK","ERVL","ERVL-MaLR","Gypsy","hAT","hAT-Blackjack","hAT-Charlie","hAT-Tag1","hAT-Tip100","Helitron","L1","L2","LTR","MIR","MULE-MuDR","Penelope","PiggyBac","Satellite","TcMar-Tc2","TcMar-Tigger","telo","UCON20","UCON37","UCON40","UCON86","UCON86_AMI"]},
        "axis": {"labelAngle": 270, "labelFontSize": 5, "labelColor": "#4d4d4d", "labelPadding": 1, "tickSize": 2, "tickColor": "#333333", "domain": false, "grid": true, "gridColor": "#ebebeb", "gridWidth": 0.8, "labelOverlap": false,
                 "title": "TE Family", "titleX": 225.5, "titleY": 39.6, "titleFontSize": 6.5, "titleFontWeight": "bold", "titleColor": "black", "titleAlign": "center", "titleBaseline": "middle"}},
   "y": {"field": "lfc", "type": "quantitative", "scale": {"domain": [-2.8, 1.78], "nice": false, "zero": false},
        "axis": {"values": [-2.5,-2,-1.5,-1,-0.5,0,0.5,1,1.5], "labelExpr": "datum.value % 1 === 0 ? '' + datum.value : ''", "labelFontSize": 5, "labelColor": "#4d4d4d", "labelPadding": 1, "tickSize": 2, "tickColor": {"condition": {"test": "datum.value % 1 !== 0", "value": "transparent"}, "value": "#333333"}, "domain": false, "grid": true, "gridColor": "#ebebeb", "gridWidth": {"condition": {"test": "datum.value % 1 !== 0", "value": 0.4}, "value": 0.8}, "title": null}}
  }}
]}
]
},
{
"bounds": "flush", "spacing": 311.2,
"resolve": {"scale": {"x": "independent", "y": "independent", "color": "independent", "shape": "independent"}},
"vconcat": [
{"bounds": "flush", "spacing": 251.3,
 "resolve": {"scale": {"x": "independent", "y": "independent", "color": "independent", "shape": "independent"}},
 "hconcat": [
 {"bounds": "flush", "spacing": 69.2,
  "resolve": {"scale": {"x": "independent", "y": "independent", "shape": "independent"}},
  "vconcat": [
  {"bounds": "flush", "spacing": 0, "vconcat": [
   {"width": 225, "height": 8.7, "view": {"stroke": null},
    "data": {"values": [{"panel": "3R4R_Aβ"}]},
    "layer": [
     {"mark": {"type": "rect", "fill": "#d9d9d9", "stroke": "#b3b3b3", "strokeWidth": 0.6}, "encoding": {}},
     {"mark": {"type": "text", "fontSize": 5.5, "color": "#333333"}, "encoding": {"text": {"field": "panel"}}}
    ]},
   {"width": 225, "height": 57.5, "data": {"name": "pts"},
    "transform": [{"filter": "datum.panel === '3R4R_Aβ'"}],
    "mark": {"type": "point", "filled": true, "size": 5, "color": "black", "opacity": 1},
    "encoding": {
     "x": {"field": "family", "type": "nominal", "scale": {"type": "point", "padding": 0.6, "domain": ["5S-Deu-L2","acro","Alu","centr","CR1","DNA","ERV1","ERVK","ERVL","ERVL-MaLR","Gypsy","hAT","hAT-Blackjack","hAT-Charlie","hAT-Tag1","hAT-Tip100","Helitron","L1","L2","LTR","MIR","MULE-MuDR","Penelope","PiggyBac","Satellite","TcMar-Tc2","TcMar-Tigger","telo","UCON20","UCON37","UCON40","UCON86","UCON86_AMI"]},
          "axis": {"labels": false, "ticks": false, "domain": false, "title": null, "grid": true, "gridColor": "#ebebeb", "gridWidth": 0.8}},
     "y": {"field": "lfc", "type": "quantitative", "scale": {"domain": [-2.8, 1.78], "nice": false, "zero": false},
          "axis": {"values": [-2.5,-2,-1.5,-1,-0.5,0,0.5,1,1.5], "labels": false, "ticks": false, "domain": false, "grid": true, "gridColor": "#ebebeb", "gridWidth": {"condition": {"test": "datum.value % 1 !== 0", "value": 0.4}, "value": 0.8}, "title": null}}
    }}
  ]},
  {"bounds": "flush", "spacing": 0, "vconcat": [
   {"width": 225, "height": 8.7, "view": {"stroke": null},
    "data": {"values": [{"panel": "4R_Aβ"}]},
    "layer": [
     {"mark": {"type": "rect", "fill": "#d9d9d9", "stroke": "#b3b3b3", "strokeWidth": 0.6}, "encoding": {}},
     {"mark": {"type": "text", "fontSize": 5.5, "color": "#333333"}, "encoding": {"text": {"field": "panel"}}}
    ]},
   {"width": 225, "height": 57.5, "data": {"name": "pts"},
    "transform": [{"filter": "datum.panel === '4R_Aβ'"}],
    "mark": {"type": "point", "filled": true, "size": 5, "color": "black", "opacity": 1},
    "encoding": {
     "x": {"field": "family", "type": "nominal", "scale": {"type": "point", "padding": 0.6, "domain": ["5S-Deu-L2","acro","Alu","centr","CR1","DNA","ERV1","ERVK","ERVL","ERVL-MaLR","Gypsy","hAT","hAT-Blackjack","hAT-Charlie","hAT-Tag1","hAT-Tip100","Helitron","L1","L2","LTR","MIR","MULE-MuDR","Penelope","PiggyBac","Satellite","TcMar-Tc2","TcMar-Tigger","telo","UCON20","UCON37","UCON40","UCON86","UCON86_AMI"]},
          "axis": {"labels": false, "ticks": false, "domain": false, "title": null, "grid": true, "gridColor": "#ebebeb", "gridWidth": 0.8}},
     "y": {"field": "lfc", "type": "quantitative", "scale": {"domain": [-2.8, 1.78], "nice": false, "zero": false},
          "axis": {"values": [-2.5,-2,-1.5,-1,-0.5,0,0.5,1,1.5], "labels": false, "ticks": false, "domain": false, "grid": true, "gridColor": "#ebebeb", "gridWidth": {"condition": {"test": "datum.value % 1 !== 0", "value": 0.4}, "value": 0.8}, "title": null}}
    }}
  ]},
  {"bounds": "flush", "spacing": 0,
   "resolve": {"scale": {"shape": "independent"}},
   "vconcat": [
   {"width": 225, "height": 8.7, "view": {"stroke": null},
    "data": {"values": [{"panel": "PSP"}]},
    "layer": [
     {"mark": {"type": "rect", "fill": "#d9d9d9", "stroke": "#b3b3b3", "strokeWidth": 0.6}, "encoding": {}},
     {"mark": {"type": "text", "fontSize": 5.5, "color": "#333333"}, "encoding": {"text": {"field": "panel"}}}
    ]},
   {"width": 225, "height": 57.5, "data": {"name": "pts"},
    "transform": [{"filter": "datum.panel === 'PSP'"}],
    "mark": {"type": "point", "filled": true, "size": 5, "color": "black", "opacity": 1},
    "encoding": {
     "x": {"field": "family", "type": "nominal", "scale": {"type": "point", "padding": 0.6, "domain": ["5S-Deu-L2","acro","Alu","centr","CR1","DNA","ERV1","ERVK","ERVL","ERVL-MaLR","Gypsy","hAT","hAT-Blackjack","hAT-Charlie","hAT-Tag1","hAT-Tip100","Helitron","L1","L2","LTR","MIR","MULE-MuDR","Penelope","PiggyBac","Satellite","TcMar-Tc2","TcMar-Tigger","telo","UCON20","UCON37","UCON40","UCON86","UCON86_AMI"]},
          "axis": {"labelAngle": 270, "labelFontSize": 5, "labelColor": "#4d4d4d", "labelPadding": 1, "tickSize": 2, "tickColor": "#333333", "domain": false, "grid": true, "gridColor": "#ebebeb", "gridWidth": 0.8, "labelOverlap": false, "title": null}},
     "y": {"field": "lfc", "type": "quantitative", "scale": {"domain": [-2.8, 1.78], "nice": false, "zero": false},
          "axis": {"values": [-2.5,-2,-1.5,-1,-0.5,0,0.5,1,1.5], "labels": false, "ticks": false, "domain": false, "grid": true, "gridColor": "#ebebeb", "gridWidth": {"condition": {"test": "datum.value % 1 !== 0", "value": 0.4}, "value": 0.8}, "title": null}},
     "shape": {"datum": "sub-family", "type": "nominal", "scale": {"range": ["circle"]},
          "legend": {"orient": "none", "legendX": 66, "legendY": 136, "title": null, "strokeColor": "#333333", "fillColor": "white", "padding": 5, "labelFontSize": 5, "labelColor": "#1a1a1a", "symbolSize": 8, "symbolFillColor": "black", "symbolStrokeWidth": 0, "labelOffset": 4}}
    }}
  ]}
  ]
 },
 {"width": 190, "height": 230, "data": {"name": "heat"},
  "view": {"fill": "#ebebeb", "stroke": null},
  "title": {"text": "B.", "anchor": "start", "align": "left", "frame": "group", "dx": -19.5, "dy": 10.7, "offset": -11, "baseline": "alphabetic", "fontSize": 15, "fontWeight": "normal", "color": "black"},
  "mark": {"type": "rect"},
  "encoding": {
   "x": {"field": "group", "type": "nominal", "scale": {"domain": ["AD","PSP","3R4R","3R4R_Aβ","4R","4R_Aβ","3R_Aβ"], "paddingInner": 0, "paddingOuter": 0},
        "axis": {"labelAngle": 0, "labelFontSize": 5, "labelColor": "#4d4d4d", "labelPadding": 1, "tickSize": 2, "tickColor": "#333333", "domain": false, "title": "Group", "titleFontSize": 7, "titleFontWeight": "bold", "titleColor": "black", "titlePadding": 0}},
   "y": {"field": "row", "type": "ordinal", "scale": {"domain": [1,2,3,4,5,6,7,8,9,10,11,12,13,14,15,16,17,18,19,20,21,22,23,24,25,26,27,28,29,30,31,32,33,34,35,36,37,38,39,40,41,42,43,44,45,46,47,48,49,50,51,52,53,54,55,56,57,58,59,60,61,62,63,64,65,66,67,68,69,70,71,72,73,74,75,76,77,78,79,80,81,82,83,84,85,86,87,88,89,90,91,92,93,94,95,96,97,98,99,100], "paddingInner": 0, "paddingOuter": 0},
        "axis": {"labels": false, "ticks": false, "domain": false, "grid": false, "title": "Differentially Expressed TE subfamilies; p.adjusted < 0.05", "titleFontSize": 5.5, "titleFontWeight": "bold", "titleColor": "black", "titlePadding": 2}},
   "color": {"field": "lfc", "type": "quantitative", "scale": {"domain": [-2.3, 0, 1.4], "range": ["#0000ff", "#ffffff", "#ff0000"], "interpolate": "rgb"},
        "legend": {"orient": "none", "legendX": 192, "legendY": 100, "direction": "vertical", "title": "log2FoldChange", "titleFontSize": 6.5, "titleFontWeight": "bold", "titleColor": "black", "titlePadding": 2, "gradientLength": 18, "gradientThickness": 6, "labelFontSize": 4.5, "labelColor": "#333333", "labelOffset": 2, "values": [1, 0, -1, -2]}}
  }}
 ]
},
{"bounds": "flush", "spacing": 81,
 "resolve": {"scale": {"x": "independent", "y": "independent", "color": "independent"}},
 "hconcat": [
 {"width": 134.3, "height": 10, "view": {"stroke": null},
  "title": {"text": "C.", "anchor": "end", "align": "left", "frame": "group", "offset": -5.7, "baseline": "alphabetic", "fontSize": 15, "fontWeight": "normal", "color": "black"},
  "data": {"values": []},
  "mark": "point"},
 {"width": 279, "height": 117, "data": {"name": "counts"}, "view": {"stroke": null},
  "title": {"text": "Number of differentially expressed TE subfamilies; p.adj < 0.05", "anchor": "end", "frame": "group", "dx": -3, "offset": -2, "baseline": "alphabetic", "fontSize": 5.5, "fontWeight": "bold", "color": "#333333"},
  "encoding": {
   "y": {"field": "label", "type": "nominal", "sort": null, "scale": {"paddingInner": 0, "paddingOuter": 0},
        "axis": {"title": null, "domain": false, "labelAlign": "left", "labelPadding": -2, "labelFontSize": 6, "labelColor": "#444444", "tickSize": 81, "tickColor": "#e3e3e3", "tickWidth": 0.8, "tickBand": "extent", "grid": true, "gridColor": "#e3e3e3", "gridWidth": 0.8}}
  },
  "layer": [
   {"mark": {"type": "bar", "cornerRadius": 4, "height": {"band": 0.78}},
    "encoding": {
     "x": {"datum": 0, "type": "quantitative", "scale": {"domain": [0, 1]}, "axis": null},
     "x2": {"datum": 1},
     "color": {"field": "n", "type": "quantitative", "scale": {"domain": [0, 250], "range": ["#add8e6", "#ffc0cb"], "interpolate": "rgb"}, "legend": null}
    }},
   {"mark": {"type": "text", "align": "right", "fontSize": 5.5, "color": "#666666", "dx": -3},
    "encoding": {
     "x": {"datum": 1, "type": "quantitative", "scale": {"domain": [0, 1]}, "axis": null},
     "text": {"field": "n"}
    }}
  ]}
 ]
}
]
}
]
}
